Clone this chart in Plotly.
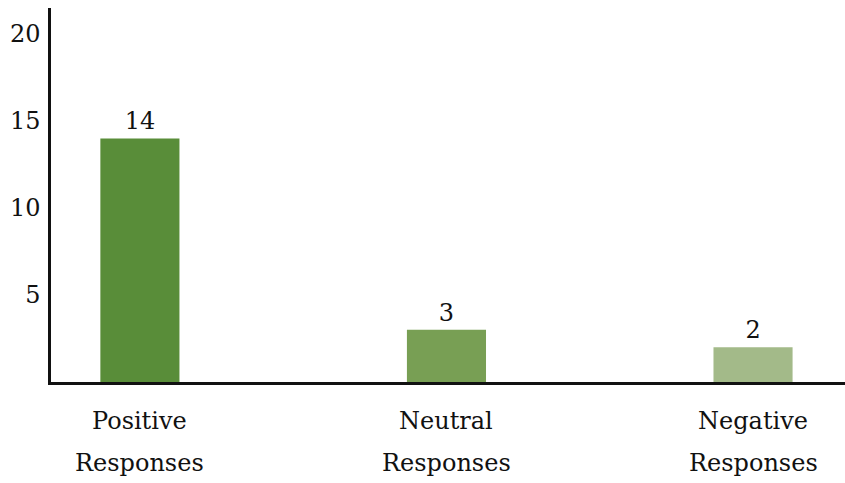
import plotly.graph_objects as go

# Survey response counts
categories = ["Positive Responses", "Neutral Responses", "Negative Responses"]
label_line1 = ["Positive", "Neutral", "Negative"]
label_line2 = ["Responses", "Responses", "Responses"]
counts = [14, 3, 2]
bar_colors = ["#598d39", "#789f54", "#a3ba89"]
y_ticks = [5, 10, 15, 20]

FONT = "DejaVu Serif"
FONT_SIZE = 24
positions = list(range(len(categories)))

fig = go.Figure(
    go.Bar(
        x=positions,
        y=counts,
        width=0.258,
        marker=dict(color=bar_colors, line=dict(width=0)),
        text=[str(v) for v in counts],
        textposition="outside",
        textfont=dict(family=FONT, size=FONT_SIZE, color="#111111"),
        cliponaxis=False,
        hoverinfo="skip",
    )
)

# Two-line category labels beneath the axis
for xi, a, b in zip(positions, label_line1, label_line2):
    fig.add_annotation(x=xi, y=-0.105, xref="x", yref="paper", text=a,
                       showarrow=False, yanchor="middle",
                       font=dict(family=FONT, size=FONT_SIZE, color="#111111"))
    fig.add_annotation(x=xi, y=-0.217, xref="x", yref="paper", text=b,
                       showarrow=False, yanchor="middle",
                       font=dict(family=FONT, size=FONT_SIZE, color="#111111"))

fig.update_layout(
    width=845,
    height=483,
    margin=dict(l=51, r=0, t=8, b=101),
    paper_bgcolor="white",
    plot_bgcolor="white",
    showlegend=False,
    font=dict(family=FONT),
    xaxis=dict(
        range=[-0.29, 2.30],
        showticklabels=False,
        showgrid=False,
        zeroline=False,
        showline=True,
        linecolor="#111111",
        linewidth=2.5,
        ticks="",
        fixedrange=True,
    ),
    yaxis=dict(
        range=[0, 21.5],
        tickvals=y_ticks,
        ticktext=[str(t) for t in y_ticks],
        tickfont=dict(family=FONT, size=FONT_SIZE, color="#111111"),
        showgrid=False,
        zeroline=False,
        showline=True,
        linecolor="#111111",
        linewidth=2.5,
        ticks="",
        ticklabelstandoff=3,
        fixedrange=True,
    ),
)

fig.write_html("out.html")
